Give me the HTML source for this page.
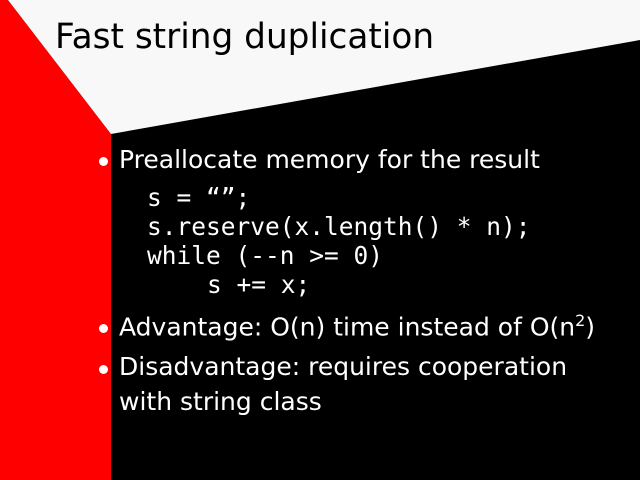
<!DOCTYPE html>
<html><head><style>
body{margin:0;width:640px;height:480px;overflow:hidden;background:#000;position:relative;font-family:"DejaVu Sans","Liberation Sans",sans-serif}
.t{position:absolute;white-space:nowrap;color:#fff}
.m{font-family:"DejaVu Sans Mono","Liberation Mono",monospace;font-size:24.5px}
.b{font-size:25px}
.d{position:absolute;width:9px;height:9px;border-radius:50%;background:#fff}
</style></head><body>
<svg width="640" height="480" style="position:absolute;left:0;top:0">
<rect width="640" height="480" fill="#000"/>
<polygon points="0,0 8,0 111,134 111,480 0,480" fill="#ff0000"/>
<polygon points="8,0 640,0 640,40 111,134" fill="#f8f8f8"/>
</svg>
<div class="t" style="left:55px;top:17px;font-size:34.3px;color:#000">Fast string duplication</div>
<div class="d" style="left:99px;top:157px"></div>
<div class="t b" style="left:119px;top:145px">Preallocate memory for the result</div>
<div class="t m" style="left:147px;top:183px">s = “”;</div>
<div class="t m" style="left:147px;top:212px">s.reserve(x.length() * n);</div>
<div class="t m" style="left:147px;top:241px">while (--n &gt;= 0)</div>
<div class="t m" style="left:207px;top:270px">s += x;</div>
<div class="d" style="left:99px;top:324px"></div>
<div class="t b" style="left:119px;top:311px">Advantage: O(n) time instead of O(n<sup style="font-size:16px">2</sup>)</div>
<div class="d" style="left:99px;top:365px"></div>
<div class="t b" style="left:119px;top:352px">Disadvantage: requires cooperation</div>
<div class="t b" style="left:119px;top:387px">with string class</div>
</body></html>
